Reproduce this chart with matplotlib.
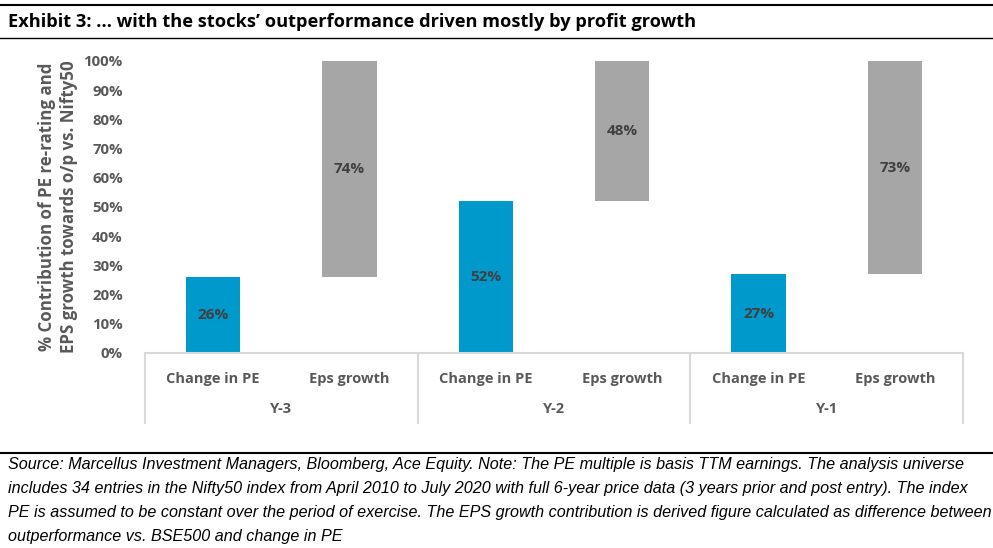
import matplotlib
matplotlib.use("Agg")
import matplotlib.pyplot as plt
from matplotlib.lines import Line2D
from matplotlib.ticker import PercentFormatter

# Data
periods = ["Y-3", "Y-2", "Y-1"]
bar_names = ["Change in PE", "Eps growth"]
pe_change = [26, 52, 27]
eps_growth = [74, 48, 73]

BLUE = "#0099CC"
GREY = "#A6A6A6"
TEXT = "#595959"
LABEL = "#404040"
SEP = "#D9D9D9"

plt.rcParams["font.family"] = ["Open Sans", "DejaVu Sans"]

W, H = 993, 548
fig = plt.figure(figsize=(W / 100, H / 100), dpi=100)


def fx(px):
    return px / W


def fy(py):
    return 1 - py / H


def fit_width(txt, target_px):
    # shrink/grow the font so the widest line spans roughly target_px
    r = fig.canvas.get_renderer()
    w = txt.get_window_extent(r).width
    txt.set_fontsize(txt.get_fontsize() * target_px / w)


# title and rule lines
fig.add_artist(Line2D([fx(0), fx(993)], [fy(5), fy(5)], color="black", lw=1.5))
fig.add_artist(Line2D([fx(0), fx(993)], [fy(38), fy(38)], color="black", lw=1.0))
fig.add_artist(Line2D([fx(0), fx(993)], [fy(453), fy(453)], color="black", lw=1.5))
title = fig.text(fx(8), fy(22), "Exhibit 3: \u2026 with the stocks\u2019 outperformance driven mostly by profit growth",
                 fontsize=13.5, fontweight="bold", va="center", ha="left", color="black")
fit_width(title, 692)

ax = fig.add_axes([fx(145), fy(353), fx(963) - fx(145), (353 - 61) / H])

# each period has two slots of equal width
slot = 1.5
xs_pe = [3 * i for i in range(len(periods))]
xs_eps = [3 * i + slot for i in range(len(periods))]
ax.bar(xs_pe, [v / 100 for v in pe_change], width=0.4 * slot, color=BLUE)
ax.bar(xs_eps, [v / 100 for v in eps_growth], width=0.4 * slot,
       bottom=[v / 100 for v in pe_change], color=GREY)

for x, v in zip(xs_pe, pe_change):
    ax.text(x, v / 200, f"{v}%", ha="center", va="center", fontsize=11,
            fontweight="bold", color=LABEL)
for x, v, b in zip(xs_eps, eps_growth, pe_change):
    ax.text(x, (b + v / 2) / 100, f"{v}%", ha="center", va="center", fontsize=11,
            fontweight="bold", color=LABEL)

ax.set_xlim(-slot / 2, 3 * len(periods) - slot / 2)
ax.set_ylim(0, 1)
ax.yaxis.set_major_formatter(PercentFormatter(1.0, decimals=0))
ax.set_yticks([i / 10 for i in range(11)])
ax.tick_params(axis="y", length=0, pad=16, labelsize=10.8, labelcolor=TEXT)
for lbl in ax.get_yticklabels():
    lbl.set_fontweight("bold")

ticks = []
tick_labels = []
for a, b in zip(xs_pe, xs_eps):
    ticks += [a, b]
    tick_labels += bar_names
ax.set_xticks(ticks)
ax.set_xticklabels(tick_labels, fontsize=10.5, fontweight="bold", color=TEXT)
ax.tick_params(axis="x", length=0, pad=14)

for s in ["top", "right", "left"]:
    ax.spines[s].set_visible(False)
ax.spines["bottom"].set_color(SEP)
ax.spines["bottom"].set_linewidth(1.5)

# category box separators and group labels
trans = ax.get_xaxis_transform()
sep_bottom = -(423 - 353) / (353 - 61)
for i in range(len(periods) + 1):
    x = 3 * i - slot / 2
    ax.plot([x, x], [0, sep_bottom], transform=trans, color=SEP, lw=1.5, clip_on=False)
for i, p in enumerate(periods):
    ax.text(3 * i + slot / 2, -(409 - 353) / (353 - 61), p, transform=trans,
            ha="center", va="center", fontsize=10.5, fontweight="bold", color=TEXT)

fig.text(fx(58), fy(207), "% Contribution of PE re-rating and\nEPS growth towards o/p vs. Nifty50",
         rotation=90, ha="center", va="center", multialignment="center",
         fontsize=12.2, fontweight="bold", color=TEXT, linespacing=1.3)

note = ("Source: Marcellus Investment Managers, Bloomberg, Ace Equity. Note: The PE multiple is basis TTM earnings. The analysis universe\n"
        "includes 34 entries in the Nifty50 index from April 2010 to July 2020 with full 6-year price data (3 years prior and post entry). The index\n"
        "PE is assumed to be constant over the period of exercise. The EPS growth contribution is derived figure calculated as difference between\n"
        "outperformance vs. BSE500 and change in PE")
foot = fig.text(fx(8), fy(457), note, ha="left", va="top", fontsize=11, style="italic",
                family=["Liberation Sans", "DejaVu Sans"], color="black", linespacing=1.75)
fit_width(foot, 980)

fig.savefig("out.png", dpi=100)
